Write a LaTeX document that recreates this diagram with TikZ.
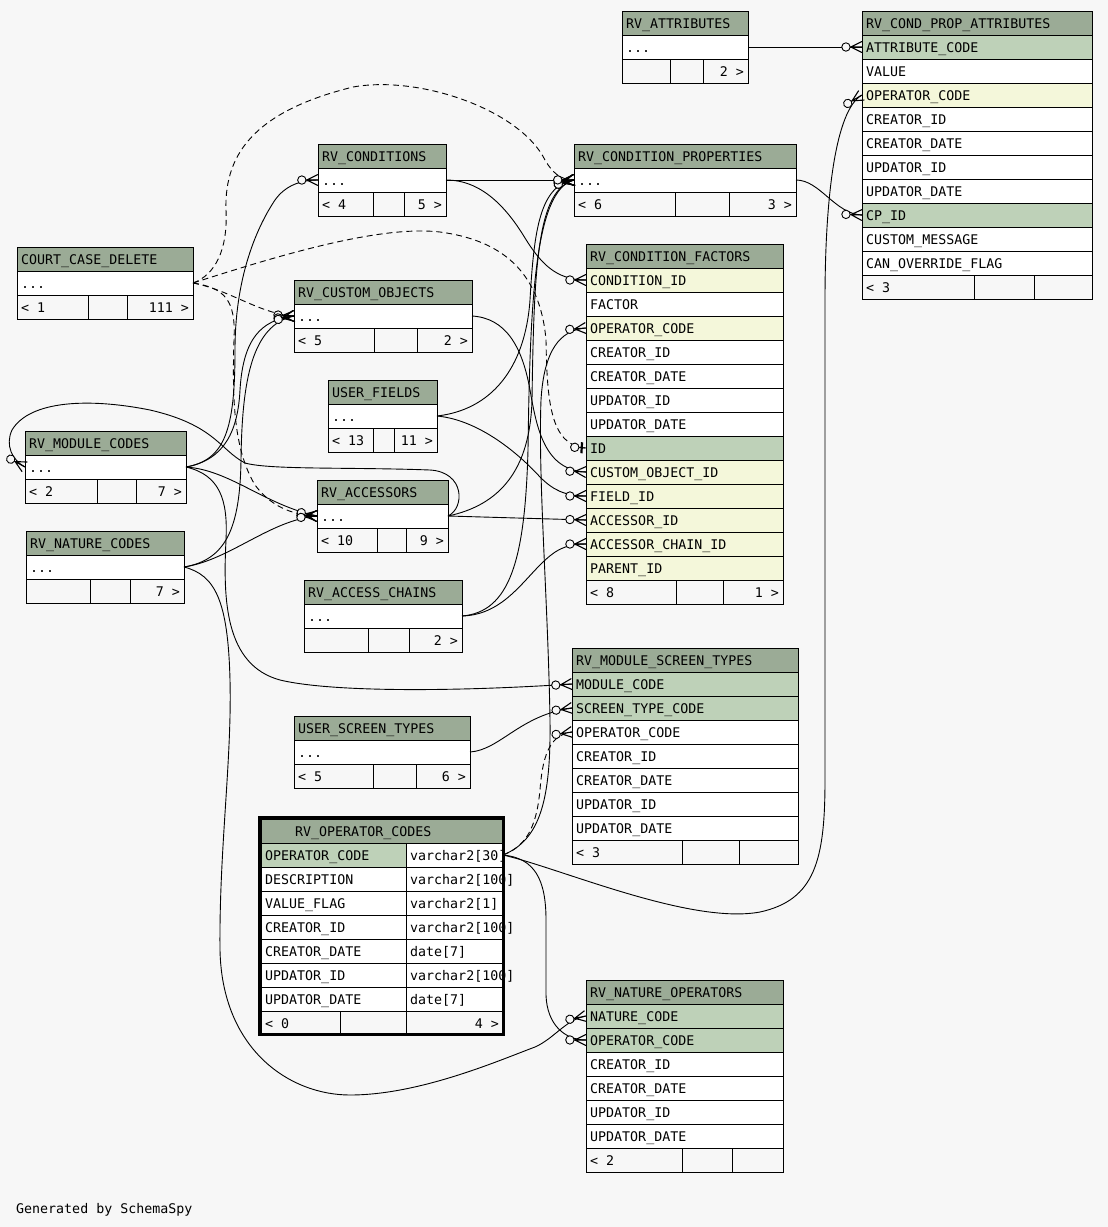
\documentclass[tikz,border=0pt]{standalone}
\usepackage{fontspec}
\newfontfamily\dbfont{DejaVu Sans Mono}
\usetikzlibrary{calc,decorations.markings}
\definecolor{bgc}{HTML}{F7F7F7}
\definecolor{hdrc}{HTML}{9BAB96}
\definecolor{pkc}{HTML}{BED1B8}
\definecolor{fkc}{HTML}{F4F7DA}
\newcommand\mycrow{%
  \draw[solid,line width=1.1pt] (-11pt,0pt) -- (0pt,5.5pt) (-11pt,0pt) -- (0pt,-5.5pt) (-12pt,0pt) -- (0pt,0pt);
  \draw[solid,line width=0.9pt,fill=bgc] (-16pt,0pt) circle (4.2pt);}
\newcommand\myone{%
  \draw[solid,line width=2.2pt] (-4pt,-5.5pt) -- (-4pt,5.5pt);
  \draw[solid,line width=0.9pt] (-8pt,0pt) -- (0pt,0pt);
  \draw[solid,line width=0.9pt,fill=bgc] (-11pt,0pt) circle (4.2pt);}
\tikzset{
  rowbox/.style={draw=black, line width=1pt, minimum height=24pt, inner sep=0pt, outer sep=0pt, anchor=north west},
  txt/.style={font=\dbfont\fontsize{13.3}{16}\selectfont, inner sep=0pt, anchor=base west},
  conn/.style={draw=black, line width=0.9pt},
  crow/.style={postaction={decorate,decoration={markings,mark=at position 0.9995 with {\mycrow}}}},
  zeroone/.style={postaction={decorate,decoration={markings,mark=at position 0.9995 with {\myone}}}},
  implied/.style={dash pattern=on 6pt off 4pt},
}
% name x y w text
\newcommand\tbHead[5]{%
  \node[rowbox, fill=hdrc, minimum width=#4pt] (#1) at (#2,#3) {};
  \node[txt] (#1-t) at ($(#1.west)+(4,5)$) {#5};}
% name x y w color text
\newcommand\tbRow[6]{%
  \node[rowbox, fill=#5, minimum width=#4pt] (#1) at (#2,#3) {};
  \node[txt] (#1-t) at ($(#1.west)+(4,5)$) {#6};}
% name x y w d1 d2 left right
\newcommand\tbFoot[8]{%
  \node[rowbox, fill=bgc, minimum width=#4pt] (#1) at (#2,#3) {};
  \draw[line width=1pt] (#5,#3) -- (#5,#3+24) (#6,#3) -- (#6,#3+24);
  \node[txt] (#1-l) at ($(#1.west)+(4,5)$) {#7};
  \node[txt, anchor=base east] (#1-r) at ($(#1.east)+(-4,5)$) {#8};}
% name y color text type
\newcommand\tbOrow[5]{%
  \node[rowbox, fill=#3, minimum width=145pt] (#1) at (261,#2) {};
  \node[rowbox, fill=white, minimum width=97pt] (#1-ty) at (406,#2) {};
  \node[txt] (#1-t) at ($(#1.west)+(4,5)$) {#4};
  \node[txt] (#1-tt) at ($(#1-ty.west)+(4,5)$) {#5};}
\begin{document}
\begin{tikzpicture}[x=1pt,y=-1pt]
\fill[bgc] (0,0) rectangle (1108,1227);
\useasboundingbox (0,0) rectangle (1108,1227);

% RV_ATTRIBUTES
\tbHead{attr}{622}{11}{126}{RV\_ATTRIBUTES}
\tbRow{attr-d}{622}{35}{126}{white}{...}
\tbFoot{attr-f}{622}{59}{126}{670}{703}{}{2 >}

% RV_COND_PROP_ATTRIBUTES
\tbHead{cpa}{862}{11}{230}{RV\_COND\_PROP\_ATTRIBUTES}
\tbRow{cpa-attr}{862}{35}{230}{pkc}{ATTRIBUTE\_CODE}
\tbRow{cpa-val}{862}{59}{230}{white}{VALUE}
\tbRow{cpa-op}{862}{83}{230}{fkc}{OPERATOR\_CODE}
\tbRow{cpa-cid}{862}{107}{230}{white}{CREATOR\_ID}
\tbRow{cpa-cdt}{862}{131}{230}{white}{CREATOR\_DATE}
\tbRow{cpa-uid}{862}{155}{230}{white}{UPDATOR\_ID}
\tbRow{cpa-udt}{862}{179}{230}{white}{UPDATOR\_DATE}
\tbRow{cpa-cp}{862}{203}{230}{pkc}{CP\_ID}
\tbRow{cpa-msg}{862}{227}{230}{white}{CUSTOM\_MESSAGE}
\tbRow{cpa-flag}{862}{251}{230}{white}{CAN\_OVERRIDE\_FLAG}
\tbFoot{cpa-f}{862}{275}{230}{974}{1034}{< 3}{}

% RV_CONDITION_PROPERTIES
\tbHead{cp}{574}{144}{222}{RV\_CONDITION\_PROPERTIES}
\tbRow{cp-d}{574}{168}{222}{white}{...}
\tbFoot{cp-f}{574}{192}{222}{675}{729}{< 6}{3 >}

% RV_CONDITION_FACTORS
\tbHead{cf}{586}{244}{197}{RV\_CONDITION\_FACTORS}
\tbRow{cf-cond}{586}{268}{197}{fkc}{CONDITION\_ID}
\tbRow{cf-fac}{586}{292}{197}{white}{FACTOR}
\tbRow{cf-op}{586}{316}{197}{fkc}{OPERATOR\_CODE}
\tbRow{cf-cid}{586}{340}{197}{white}{CREATOR\_ID}
\tbRow{cf-cdt}{586}{364}{197}{white}{CREATOR\_DATE}
\tbRow{cf-uid}{586}{388}{197}{white}{UPDATOR\_ID}
\tbRow{cf-udt}{586}{412}{197}{white}{UPDATOR\_DATE}
\tbRow{cf-id}{586}{436}{197}{pkc}{ID}
\tbRow{cf-coid}{586}{460}{197}{fkc}{CUSTOM\_OBJECT\_ID}
\tbRow{cf-field}{586}{484}{197}{fkc}{FIELD\_ID}
\tbRow{cf-acc}{586}{508}{197}{fkc}{ACCESSOR\_ID}
\tbRow{cf-ach}{586}{532}{197}{fkc}{ACCESSOR\_CHAIN\_ID}
\tbRow{cf-par}{586}{556}{197}{fkc}{PARENT\_ID}
\tbFoot{cf-f}{586}{580}{197}{676}{723}{< 8}{1 >}

% RV_CONDITIONS
\tbHead{cond}{318}{144}{128}{RV\_CONDITIONS}
\tbRow{cond-d}{318}{168}{128}{white}{...}
\tbFoot{cond-f}{318}{192}{128}{373}{404}{< 4}{5 >}

% COURT_CASE_DELETE
\tbHead{ccd}{17}{247}{176}{COURT\_CASE\_DELETE}
\tbRow{ccd-d}{17}{271}{176}{white}{...}
\tbFoot{ccd-f}{17}{295}{176}{88}{127}{< 1}{111 >}

% RV_CUSTOM_OBJECTS
\tbHead{co}{294}{280}{178}{RV\_CUSTOM\_OBJECTS}
\tbRow{co-d}{294}{304}{178}{white}{...}
\tbFoot{co-f}{294}{328}{178}{374}{417}{< 5}{2 >}

% USER_FIELDS
\tbHead{uf}{328}{380}{109}{USER\_FIELDS}
\tbRow{uf-d}{328}{404}{109}{white}{...}
\tbFoot{uf-f}{328}{428}{109}{373}{394}{< 13}{11 >}

% RV_MODULE_CODES
\tbHead{mc}{25}{431}{161}{RV\_MODULE\_CODES}
\tbRow{mc-d}{25}{455}{161}{white}{...}
\tbFoot{mc-f}{25}{479}{161}{97}{136}{< 2}{7 >}

% RV_NATURE_CODES
\tbHead{nc}{26}{531}{158}{RV\_NATURE\_CODES}
\tbRow{nc-d}{26}{555}{158}{white}{...}
\tbFoot{nc-f}{26}{579}{158}{90}{130}{}{7 >}

% RV_ACCESSORS
\tbHead{acc}{317}{480}{131}{RV\_ACCESSORS}
\tbRow{acc-d}{317}{504}{131}{white}{...}
\tbFoot{acc-f}{317}{528}{131}{377}{406}{< 10}{9 >}

% RV_ACCESS_CHAINS
\tbHead{ach}{304}{580}{158}{RV\_ACCESS\_CHAINS}
\tbRow{ach-d}{304}{604}{158}{white}{...}
\tbFoot{ach-f}{304}{628}{158}{368}{409}{}{2 >}

% RV_MODULE_SCREEN_TYPES
\tbHead{mst}{572}{648}{226}{RV\_MODULE\_SCREEN\_TYPES}
\tbRow{mst-mc}{572}{672}{226}{pkc}{MODULE\_CODE}
\tbRow{mst-st}{572}{696}{226}{pkc}{SCREEN\_TYPE\_CODE}
\tbRow{mst-op}{572}{720}{226}{white}{OPERATOR\_CODE}
\tbRow{mst-cid}{572}{744}{226}{white}{CREATOR\_ID}
\tbRow{mst-cdt}{572}{768}{226}{white}{CREATOR\_DATE}
\tbRow{mst-uid}{572}{792}{226}{white}{UPDATOR\_ID}
\tbRow{mst-udt}{572}{816}{226}{white}{UPDATOR\_DATE}
\tbFoot{mst-f}{572}{840}{226}{682}{739}{< 3}{}

% USER_SCREEN_TYPES
\tbHead{ust}{294}{716}{176}{USER\_SCREEN\_TYPES}
\tbRow{ust-d}{294}{740}{176}{white}{...}
\tbFoot{ust-f}{294}{764}{176}{373}{416}{< 5}{6 >}

% RV_NATURE_OPERATORS
\tbHead{no}{586}{980}{197}{RV\_NATURE\_OPERATORS}
\tbRow{no-nc}{586}{1004}{197}{pkc}{NATURE\_CODE}
\tbRow{no-op}{586}{1028}{197}{pkc}{OPERATOR\_CODE}
\tbRow{no-cid}{586}{1052}{197}{white}{CREATOR\_ID}
\tbRow{no-cdt}{586}{1076}{197}{white}{CREATOR\_DATE}
\tbRow{no-uid}{586}{1100}{197}{white}{UPDATOR\_ID}
\tbRow{no-udt}{586}{1124}{197}{white}{UPDATOR\_DATE}
\tbFoot{no-f}{586}{1148}{197}{682}{732}{< 2}{}

% RV_OPERATOR_CODES (focus table)
\node[rowbox, fill=hdrc, minimum width=242pt] (opc) at (261,819) {};
\node[txt] (opc-t) at (295,836) {RV\_OPERATOR\_CODES};
\tbOrow{opc-op}{843}{pkc}{OPERATOR\_CODE}{varchar2[30]}
\tbOrow{opc-desc}{867}{white}{DESCRIPTION}{varchar2[100]}
\tbOrow{opc-vf}{891}{white}{VALUE\_FLAG}{varchar2[1]}
\tbOrow{opc-cid}{915}{white}{CREATOR\_ID}{varchar2[100]}
\tbOrow{opc-cdt}{939}{white}{CREATOR\_DATE}{date[7]}
\tbOrow{opc-uid}{963}{white}{UPDATOR\_ID}{varchar2[100]}
\tbOrow{opc-udt}{987}{white}{UPDATOR\_DATE}{date[7]}
\tbFoot{opc-f}{261}{1011}{242}{340}{406}{< 0}{4 >}
\draw[line width=3pt] (259.5,817.5) rectangle (503.5,1034.5);

% connectors
\path[conn,crow] (attr-d.east) -- (cpa-attr.west);
\path[conn,crow] (cp-d.east) .. controls (820,180) and (835,214) .. (cpa-cp.west);
\path[conn,crow] (opc-op-ty.east) .. controls (560,868) and (690,925) .. (760,912) .. controls (815,900) and (825,860) .. (825,780) -- (825,300) .. controls (825,200) and (835,110) .. (cpa-op.west);
\path[conn,crow] (cond-d.east) -- (cp-d.west);
\path[conn,crow] (cond-d.east) .. controls (480,180) and (505,205) .. (525,238) .. controls (540,262) and (555,280) .. (cf-cond.west);
\path[conn,crow] (co-d.east) .. controls (505,318) and (522,345) .. (530,390) .. controls (537,430) and (545,470) .. (cf-coid.west);
\path[conn,crow] (uf-d.east) .. controls (480,420) and (520,455) .. (540,477) .. controls (553,490) and (565,496) .. (cf-field.west);
\path[conn,crow] (uf-d.east) .. controls (490,410) and (525,370) .. (530,300) .. controls (534,230) and (540,185) .. (cp-d.west);
\path[conn,crow] (acc-d.east) -- (cf-acc.west);
\path[conn,crow] (acc-d.east) .. controls (500,505) and (530,470) .. (532,400) .. controls (534,260) and (538,190) .. (cp-d.west);
\path[conn,crow] (ach-d.east) .. controls (500,615) and (520,585) .. (540,565) .. controls (555,550) and (565,544) .. (cf-ach.west);
\path[conn,crow] (ach-d.east) .. controls (510,612) and (525,560) .. (528,450) .. controls (530,300) and (535,190) .. (cp-d.west);
\path[conn,crow] (opc-op-ty.east) .. controls (540,840) and (551,800) .. (550,720) .. controls (548,600) and (538,480) .. (541,400) .. controls (544,350) and (560,330) .. (cf-op.west);
\path[conn,implied,zeroone] (ccd-d.east) .. controls (280,255) and (380,225) .. (440,232) .. controls (500,240) and (540,270) .. (546,340) .. controls (547,400) and (550,446) .. (cf-id.west);
\path[conn,implied,crow] (ccd-d.east) .. controls (215,275) and (228,250) .. (226,210) .. controls (224,150) and (260,110) .. (353,87) .. controls (420,75) and (520,110) .. (545,160) .. controls (552,172) and (560,180) .. (cp-d.west);
\path[conn,implied,crow] (ccd-d.east) .. controls (230,290) and (260,314) .. (co-d.west);
\path[conn,implied,crow] (ccd-d.east) .. controls (225,288) and (236,300) .. (234,340) .. controls (232,400) and (234,450) .. (255,485) .. controls (270,505) and (290,515) .. (acc-d.west);
\path[conn,crow] (mc-d.east) .. controls (225,460) and (235,430) .. (235,350) .. controls (235,280) and (255,230) .. (275,200) .. controls (285,186) and (300,180) .. (cond-d.west);
\path[conn,crow] (mc-d.east) .. controls (225,460) and (238,430) .. (240,390) .. controls (243,340) and (260,320) .. (co-d.west);
\path[conn,crow] (nc-d.east) .. controls (225,560) and (240,530) .. (241,460) .. controls (242,380) and (252,325) .. (co-d.west);
\path[conn,crow] (mc-d.east) .. controls (230,470) and (265,505) .. (acc-d.west);
\path[conn,crow] (nc-d.east) .. controls (230,560) and (270,520) .. (acc-d.west);
\path[conn,crow] (acc-d.east) .. controls (465,508) and (465,472) .. (430,470) .. controls (350,467) and (270,470) .. (245,463) .. controls (220,450) and (215,425) .. (150,410) .. controls (90,398) and (30,400) .. (12,430) .. controls (5,445) and (12,460) .. (mc-d.west);
\path[conn,crow] (mc-d.east) .. controls (220,475) and (228,500) .. (226,540) .. controls (223,600) and (225,665) .. (280,680) .. controls (330,692) and (450,692) .. (mst-mc.west);
\path[conn,crow] (nc-d.east) .. controls (215,575) and (228,600) .. (230,680) .. controls (232,760) and (219,850) .. (220,950) .. controls (222,1050) and (290,1095) .. (350,1095) .. controls (420,1095) and (500,1060) .. (535,1047) .. controls (555,1038) and (565,1020) .. (no-nc.west);
\path[conn,crow] (opc-op-ty.east) .. controls (535,858) and (546,880) .. (546,920) -- (546,995) .. controls (547,1025) and (565,1040) .. (no-op.west);
\path[conn,implied,crow] (opc-op-ty.east) .. controls (530,845) and (537,820) .. (540,790) .. controls (543,750) and (552,735) .. (mst-op.west);
\path[conn,crow] (ust-d.east) .. controls (500,750) and (520,715) .. (mst-st.west);

\node[txt] (gen) at (16,1213) {Generated by SchemaSpy};
\end{tikzpicture}
\end{document}
